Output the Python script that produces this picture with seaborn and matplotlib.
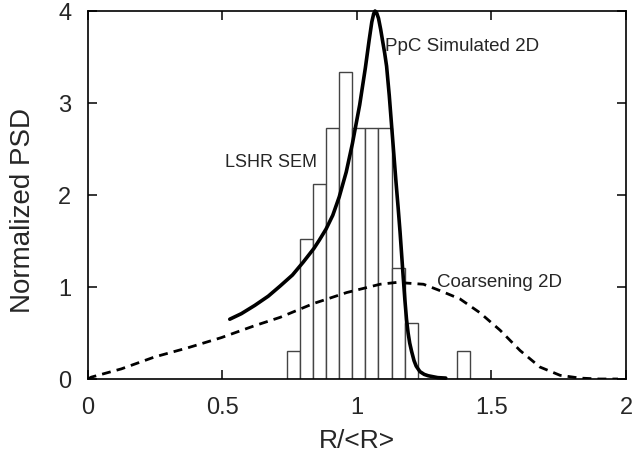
import seaborn as sns
import matplotlib
matplotlib.use("Agg")
import matplotlib.pyplot as plt

# LSHR SEM histogram: bin centres and normalized heights
sem_r = [0.7634, 0.8121, 0.8608, 0.9095, 0.9582, 1.0069, 1.0556, 1.1043, 1.1530, 1.2017, 1.3965]
sem_psd = [0.30, 1.52, 2.12, 2.73, 3.34, 2.73, 2.73, 2.73, 1.21, 0.61, 0.30]
bin_width = 0.0487
bin_start = 0.739
bin_stop = 1.4208

# PpC simulated 2D curve
ppc_r = [0.527, 0.57, 0.62, 0.67, 0.714, 0.76, 0.80, 0.84, 0.86, 0.885, 0.91, 0.934,
         0.96, 0.983, 1.01, 1.031, 1.045, 1.055, 1.062, 1.067, 1.073, 1.08, 1.088,
         1.096, 1.103, 1.110, 1.12, 1.129, 1.137, 1.145, 1.153, 1.16, 1.166, 1.172,
         1.178, 1.184, 1.19, 1.196, 1.203, 1.212, 1.22, 1.234, 1.25, 1.265, 1.30, 1.33]
ppc_psd = [0.65, 0.71, 0.80, 0.90, 1.01, 1.13, 1.27, 1.42, 1.51, 1.63, 1.78, 1.98,
           2.25, 2.56, 2.98, 3.38, 3.68, 3.88, 3.97, 4.00, 3.98, 3.92, 3.80,
           3.66, 3.54, 3.40, 3.08, 2.74, 2.44, 2.14, 1.86, 1.60, 1.35, 1.10,
           0.86, 0.65, 0.50, 0.39, 0.30, 0.20, 0.14, 0.08, 0.05, 0.035, 0.015, 0.01]

# coarsening 2D curve
coars_r = [0.0, 0.012, 0.124, 0.248, 0.372, 0.496, 0.62, 0.714, 0.838, 0.962, 1.086,
           1.148, 1.247, 1.309, 1.383, 1.457, 1.532, 1.606, 1.68, 1.755, 1.829, 1.9, 1.97]
coars_psd = [0.0, 0.02, 0.11, 0.24, 0.34, 0.45, 0.58, 0.67, 0.82, 0.94, 1.03,
             1.05, 1.03, 0.96, 0.87, 0.72, 0.53, 0.31, 0.13, 0.04, 0.01, 0.0, 0.0]

x_ticks = [0, 0.5, 1, 1.5, 2]
x_tick_labels = ["0", "0.5", "1", "1.5", "2"]
y_ticks = [0, 1, 2, 3, 4]

sns.set_style("ticks")
plt.rcParams['font.family'] = ['Liberation Sans', 'DejaVu Sans']

fig = plt.figure(figsize=(6.38, 4.6), dpi=100)
ax = fig.add_axes([88/638, 1 - 380/460, 538/638, 368/460])

sns.histplot(x=sem_r, weights=sem_psd, binwidth=bin_width, binrange=(bin_start, bin_stop),
             color="white", edgecolor="#444444", linewidth=1.0, alpha=1, ax=ax)
sns.lineplot(x=coars_r, y=coars_psd, color="black", linewidth=2.0,
             linestyle=(0, (3.2, 2.2)), ax=ax)
sns.lineplot(x=ppc_r, y=ppc_psd, color="black", linewidth=2.6, ax=ax, clip_on=False)

ax.text(1.104, 3.62, "PpC Simulated 2D", fontsize=13.5, va="center")
ax.text(0.509, 2.36, "LSHR SEM", fontsize=13, va="center")
ax.text(1.297, 1.065, "Coarsening 2D", fontsize=13.5, va="center")

ax.set_xlim(0, 2)
ax.set_ylim(0, 4)
ax.set_xticks(x_ticks)
ax.set_xticklabels(x_tick_labels)
ax.set_yticks(y_ticks)
ax.tick_params(direction="in", length=6.5, width=1.1, labelsize=17, pad=12,
               top=True, right=True, color="black")
for s in ax.spines.values():
    s.set_linewidth(1.2)
    s.set_color("black")

ax.set_xlabel("R/<R>", fontsize=19, va="center")
ax.set_ylabel("Normalized PSD", fontsize=20, va="center")
ax.xaxis.set_label_coords(0.5, -0.166)
ax.yaxis.set_label_coords(-0.121, 0.46)

fig.savefig("out.png", dpi=100)
